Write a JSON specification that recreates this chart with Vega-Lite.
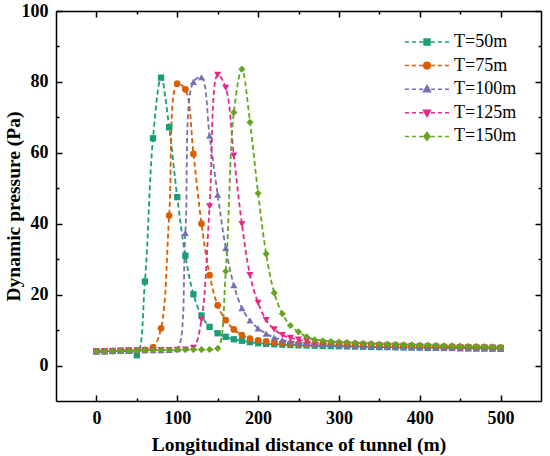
{
  "$schema": "https://vega.github.io/schema/vega-lite/v6.json",
  "width": 485,
  "height": 390,
  "autosize": {"type": "none"},
  "padding": {"left": 56, "top": 11, "right": 9, "bottom": 55},
  "background": "white",
  "config": {
    "view": {"stroke": null},
    "axis": {
      "grid": false,
      "domainColor": "black",
      "domainWidth": 1.5,
      "tickColor": "black",
      "tickWidth": 1.5,
      "labelFont": "Liberation Serif, Times New Roman, DejaVu Serif, serif",
      "labelFontSize": 18,
      "labelFontWeight": "bold",
      "labelColor": "black",
      "titleFont": "Liberation Serif, Times New Roman, DejaVu Serif, serif",
      "titleFontSize": 19.5,
      "titleFontWeight": "bold",
      "titleColor": "black"
    }
  },
  "data": {
    "values": [
      {"T": "T=50m", "x": 0, "p": 4.0}, {"T": "T=50m", "x": 10, "p": 4.05}, {"T": "T=50m", "x": 20, "p": 4.1}, {"T": "T=50m", "x": 30, "p": 4.15}, {"T": "T=50m", "x": 40, "p": 4.2},
      {"T": "T=50m", "x": 50, "p": 2.9}, {"T": "T=50m", "x": 60, "p": 23.7}, {"T": "T=50m", "x": 70, "p": 64.1}, {"T": "T=50m", "x": 80, "p": 81.2}, {"T": "T=50m", "x": 90, "p": 67.2},
      {"T": "T=50m", "x": 100, "p": 47.5}, {"T": "T=50m", "x": 110, "p": 31.0}, {"T": "T=50m", "x": 120, "p": 20.1}, {"T": "T=50m", "x": 130, "p": 14.1}, {"T": "T=50m", "x": 140, "p": 10.9},
      {"T": "T=50m", "x": 150, "p": 9.1}, {"T": "T=50m", "x": 160, "p": 8.1}, {"T": "T=50m", "x": 170, "p": 7.4}, {"T": "T=50m", "x": 180, "p": 7.0}, {"T": "T=50m", "x": 190, "p": 6.6},
      {"T": "T=50m", "x": 200, "p": 6.3}, {"T": "T=50m", "x": 210, "p": 6.1}, {"T": "T=50m", "x": 220, "p": 6.0}, {"T": "T=50m", "x": 230, "p": 5.9}, {"T": "T=50m", "x": 240, "p": 5.8},
      {"T": "T=50m", "x": 250, "p": 5.7}, {"T": "T=50m", "x": 260, "p": 5.65}, {"T": "T=50m", "x": 270, "p": 5.6}, {"T": "T=50m", "x": 280, "p": 5.55}, {"T": "T=50m", "x": 290, "p": 5.5},
      {"T": "T=50m", "x": 300, "p": 5.45}, {"T": "T=50m", "x": 310, "p": 5.4}, {"T": "T=50m", "x": 320, "p": 5.35}, {"T": "T=50m", "x": 330, "p": 5.3}, {"T": "T=50m", "x": 340, "p": 5.25},
      {"T": "T=50m", "x": 350, "p": 5.2}, {"T": "T=50m", "x": 360, "p": 5.2}, {"T": "T=50m", "x": 370, "p": 5.15}, {"T": "T=50m", "x": 380, "p": 5.1}, {"T": "T=50m", "x": 390, "p": 5.1},
      {"T": "T=50m", "x": 400, "p": 5.05}, {"T": "T=50m", "x": 410, "p": 5.0}, {"T": "T=50m", "x": 420, "p": 5.0}, {"T": "T=50m", "x": 430, "p": 4.95}, {"T": "T=50m", "x": 440, "p": 4.95},
      {"T": "T=50m", "x": 450, "p": 4.9}, {"T": "T=50m", "x": 460, "p": 4.9}, {"T": "T=50m", "x": 470, "p": 4.85}, {"T": "T=50m", "x": 480, "p": 4.85}, {"T": "T=50m", "x": 490, "p": 4.8},
      {"T": "T=50m", "x": 500, "p": 4.8},

      {"T": "T=75m", "x": 0, "p": 4.0}, {"T": "T=75m", "x": 10, "p": 4.05}, {"T": "T=75m", "x": 20, "p": 4.1}, {"T": "T=75m", "x": 30, "p": 4.15}, {"T": "T=75m", "x": 40, "p": 4.2},
      {"T": "T=75m", "x": 50, "p": 4.25}, {"T": "T=75m", "x": 60, "p": 4.4}, {"T": "T=75m", "x": 70, "p": 5.1}, {"T": "T=75m", "x": 80, "p": 10.5}, {"T": "T=75m", "x": 90, "p": 42.3},
      {"T": "T=75m", "x": 100, "p": 79.5}, {"T": "T=75m", "x": 110, "p": 77.9}, {"T": "T=75m", "x": 120, "p": 59.7}, {"T": "T=75m", "x": 130, "p": 40.0}, {"T": "T=75m", "x": 140, "p": 25.5},
      {"T": "T=75m", "x": 150, "p": 17.0}, {"T": "T=75m", "x": 160, "p": 12.8}, {"T": "T=75m", "x": 170, "p": 10.2}, {"T": "T=75m", "x": 180, "p": 8.6}, {"T": "T=75m", "x": 190, "p": 7.6},
      {"T": "T=75m", "x": 200, "p": 7.1}, {"T": "T=75m", "x": 210, "p": 6.8}, {"T": "T=75m", "x": 220, "p": 6.5}, {"T": "T=75m", "x": 230, "p": 6.35}, {"T": "T=75m", "x": 240, "p": 6.2},
      {"T": "T=75m", "x": 250, "p": 6.1}, {"T": "T=75m", "x": 260, "p": 6.0}, {"T": "T=75m", "x": 270, "p": 5.95}, {"T": "T=75m", "x": 280, "p": 5.9}, {"T": "T=75m", "x": 290, "p": 5.85},
      {"T": "T=75m", "x": 300, "p": 5.8}, {"T": "T=75m", "x": 310, "p": 5.75}, {"T": "T=75m", "x": 320, "p": 5.7}, {"T": "T=75m", "x": 330, "p": 5.65}, {"T": "T=75m", "x": 340, "p": 5.6},
      {"T": "T=75m", "x": 350, "p": 5.55}, {"T": "T=75m", "x": 360, "p": 5.5}, {"T": "T=75m", "x": 370, "p": 5.45}, {"T": "T=75m", "x": 380, "p": 5.4}, {"T": "T=75m", "x": 390, "p": 5.4},
      {"T": "T=75m", "x": 400, "p": 5.35}, {"T": "T=75m", "x": 410, "p": 5.3}, {"T": "T=75m", "x": 420, "p": 5.3}, {"T": "T=75m", "x": 430, "p": 5.25}, {"T": "T=75m", "x": 440, "p": 5.2},
      {"T": "T=75m", "x": 450, "p": 5.2}, {"T": "T=75m", "x": 460, "p": 5.15}, {"T": "T=75m", "x": 470, "p": 5.1}, {"T": "T=75m", "x": 480, "p": 5.1}, {"T": "T=75m", "x": 490, "p": 5.05},
      {"T": "T=75m", "x": 500, "p": 5.0},

      {"T": "T=100m", "x": 0, "p": 4.0}, {"T": "T=100m", "x": 10, "p": 4.05}, {"T": "T=100m", "x": 20, "p": 4.1}, {"T": "T=100m", "x": 30, "p": 4.15}, {"T": "T=100m", "x": 40, "p": 4.2},
      {"T": "T=100m", "x": 50, "p": 4.25}, {"T": "T=100m", "x": 60, "p": 4.3}, {"T": "T=100m", "x": 70, "p": 4.35}, {"T": "T=100m", "x": 80, "p": 4.35}, {"T": "T=100m", "x": 90, "p": 4.4},
      {"T": "T=100m", "x": 100, "p": 4.6}, {"T": "T=100m", "x": 110, "p": 37.4}, {"T": "T=100m", "x": 120, "p": 80.0}, {"T": "T=100m", "x": 130, "p": 81.3}, {"T": "T=100m", "x": 140, "p": 64.8},
      {"T": "T=100m", "x": 150, "p": 48.2}, {"T": "T=100m", "x": 160, "p": 33.2}, {"T": "T=100m", "x": 170, "p": 22.7}, {"T": "T=100m", "x": 180, "p": 16.2}, {"T": "T=100m", "x": 190, "p": 12.7},
      {"T": "T=100m", "x": 200, "p": 10.5}, {"T": "T=100m", "x": 210, "p": 9.0}, {"T": "T=100m", "x": 220, "p": 7.9}, {"T": "T=100m", "x": 230, "p": 7.2}, {"T": "T=100m", "x": 240, "p": 6.8},
      {"T": "T=100m", "x": 250, "p": 6.5}, {"T": "T=100m", "x": 260, "p": 6.3}, {"T": "T=100m", "x": 270, "p": 6.1}, {"T": "T=100m", "x": 280, "p": 6.0}, {"T": "T=100m", "x": 290, "p": 5.9},
      {"T": "T=100m", "x": 300, "p": 5.8}, {"T": "T=100m", "x": 310, "p": 5.7}, {"T": "T=100m", "x": 320, "p": 5.6}, {"T": "T=100m", "x": 330, "p": 5.55}, {"T": "T=100m", "x": 340, "p": 5.5},
      {"T": "T=100m", "x": 350, "p": 5.4}, {"T": "T=100m", "x": 360, "p": 5.35}, {"T": "T=100m", "x": 370, "p": 5.3}, {"T": "T=100m", "x": 380, "p": 5.25}, {"T": "T=100m", "x": 390, "p": 5.2},
      {"T": "T=100m", "x": 400, "p": 5.15}, {"T": "T=100m", "x": 410, "p": 5.1}, {"T": "T=100m", "x": 420, "p": 5.05}, {"T": "T=100m", "x": 430, "p": 5.0}, {"T": "T=100m", "x": 440, "p": 4.95},
      {"T": "T=100m", "x": 450, "p": 4.9}, {"T": "T=100m", "x": 460, "p": 4.85}, {"T": "T=100m", "x": 470, "p": 4.8}, {"T": "T=100m", "x": 480, "p": 4.8}, {"T": "T=100m", "x": 490, "p": 4.75},
      {"T": "T=100m", "x": 500, "p": 4.7},

      {"T": "T=125m", "x": 0, "p": 4.0}, {"T": "T=125m", "x": 10, "p": 4.05}, {"T": "T=125m", "x": 20, "p": 4.1}, {"T": "T=125m", "x": 30, "p": 4.15}, {"T": "T=125m", "x": 40, "p": 4.2},
      {"T": "T=125m", "x": 50, "p": 4.25}, {"T": "T=125m", "x": 60, "p": 4.3}, {"T": "T=125m", "x": 70, "p": 4.35}, {"T": "T=125m", "x": 80, "p": 4.35}, {"T": "T=125m", "x": 90, "p": 4.4},
      {"T": "T=125m", "x": 100, "p": 4.45}, {"T": "T=125m", "x": 110, "p": 4.5}, {"T": "T=125m", "x": 120, "p": 5.0}, {"T": "T=125m", "x": 130, "p": 12.9}, {"T": "T=125m", "x": 140, "p": 44.9},
      {"T": "T=125m", "x": 150, "p": 82.0}, {"T": "T=125m", "x": 160, "p": 78.3}, {"T": "T=125m", "x": 170, "p": 59.2}, {"T": "T=125m", "x": 180, "p": 39.9}, {"T": "T=125m", "x": 190, "p": 25.5},
      {"T": "T=125m", "x": 200, "p": 17.7}, {"T": "T=125m", "x": 210, "p": 12.8}, {"T": "T=125m", "x": 220, "p": 10.2}, {"T": "T=125m", "x": 230, "p": 8.6}, {"T": "T=125m", "x": 240, "p": 7.8},
      {"T": "T=125m", "x": 250, "p": 7.3}, {"T": "T=125m", "x": 260, "p": 6.9}, {"T": "T=125m", "x": 270, "p": 6.6}, {"T": "T=125m", "x": 280, "p": 6.4}, {"T": "T=125m", "x": 290, "p": 6.3},
      {"T": "T=125m", "x": 300, "p": 6.2}, {"T": "T=125m", "x": 310, "p": 6.1}, {"T": "T=125m", "x": 320, "p": 6.0}, {"T": "T=125m", "x": 330, "p": 5.9}, {"T": "T=125m", "x": 340, "p": 5.85},
      {"T": "T=125m", "x": 350, "p": 5.8}, {"T": "T=125m", "x": 360, "p": 5.7}, {"T": "T=125m", "x": 370, "p": 5.65}, {"T": "T=125m", "x": 380, "p": 5.6}, {"T": "T=125m", "x": 390, "p": 5.5},
      {"T": "T=125m", "x": 400, "p": 5.45}, {"T": "T=125m", "x": 410, "p": 5.4}, {"T": "T=125m", "x": 420, "p": 5.35}, {"T": "T=125m", "x": 430, "p": 5.3}, {"T": "T=125m", "x": 440, "p": 5.25},
      {"T": "T=125m", "x": 450, "p": 5.2}, {"T": "T=125m", "x": 460, "p": 5.15}, {"T": "T=125m", "x": 470, "p": 5.1}, {"T": "T=125m", "x": 480, "p": 5.1}, {"T": "T=125m", "x": 490, "p": 5.05},
      {"T": "T=125m", "x": 500, "p": 5.0},

      {"T": "T=150m", "x": 0, "p": 4.0}, {"T": "T=150m", "x": 10, "p": 4.05}, {"T": "T=150m", "x": 20, "p": 4.1}, {"T": "T=150m", "x": 30, "p": 4.15}, {"T": "T=150m", "x": 40, "p": 4.2},
      {"T": "T=150m", "x": 50, "p": 4.25}, {"T": "T=150m", "x": 60, "p": 4.3}, {"T": "T=150m", "x": 70, "p": 4.35}, {"T": "T=150m", "x": 80, "p": 4.35}, {"T": "T=150m", "x": 90, "p": 4.4},
      {"T": "T=150m", "x": 100, "p": 4.45}, {"T": "T=150m", "x": 110, "p": 4.45}, {"T": "T=150m", "x": 120, "p": 4.5}, {"T": "T=150m", "x": 130, "p": 4.5}, {"T": "T=150m", "x": 140, "p": 4.55},
      {"T": "T=150m", "x": 150, "p": 4.8}, {"T": "T=150m", "x": 160, "p": 26.6}, {"T": "T=150m", "x": 170, "p": 71.4}, {"T": "T=150m", "x": 180, "p": 83.6}, {"T": "T=150m", "x": 190, "p": 68.6},
      {"T": "T=150m", "x": 200, "p": 48.6}, {"T": "T=150m", "x": 210, "p": 31.5}, {"T": "T=150m", "x": 220, "p": 20.5}, {"T": "T=150m", "x": 230, "p": 14.6}, {"T": "T=150m", "x": 240, "p": 11.3},
      {"T": "T=150m", "x": 250, "p": 9.5}, {"T": "T=150m", "x": 260, "p": 8.1}, {"T": "T=150m", "x": 270, "p": 7.3}, {"T": "T=150m", "x": 280, "p": 7.0}, {"T": "T=150m", "x": 290, "p": 6.75},
      {"T": "T=150m", "x": 300, "p": 6.6}, {"T": "T=150m", "x": 310, "p": 6.5}, {"T": "T=150m", "x": 320, "p": 6.4}, {"T": "T=150m", "x": 330, "p": 6.3}, {"T": "T=150m", "x": 340, "p": 6.2},
      {"T": "T=150m", "x": 350, "p": 6.1}, {"T": "T=150m", "x": 360, "p": 6.05}, {"T": "T=150m", "x": 370, "p": 6.0}, {"T": "T=150m", "x": 380, "p": 5.9}, {"T": "T=150m", "x": 390, "p": 5.85},
      {"T": "T=150m", "x": 400, "p": 5.8}, {"T": "T=150m", "x": 410, "p": 5.75}, {"T": "T=150m", "x": 420, "p": 5.7}, {"T": "T=150m", "x": 430, "p": 5.6}, {"T": "T=150m", "x": 440, "p": 5.55},
      {"T": "T=150m", "x": 450, "p": 5.5}, {"T": "T=150m", "x": 460, "p": 5.45}, {"T": "T=150m", "x": 470, "p": 5.4}, {"T": "T=150m", "x": 480, "p": 5.35}, {"T": "T=150m", "x": 490, "p": 5.3},
      {"T": "T=150m", "x": 500, "p": 5.2}
    ]
  },
  "layer": [
    {
      "mark": {"type": "line", "strokeDash": [5, 3], "strokeWidth": 1.8, "interpolate": "catmull-rom"},
      "encoding": {
        "x": {
          "field": "x", "type": "quantitative",
          "scale": {"domain": [-50, 550], "nice": false, "zero": false},
          "axis": {
            "values": [0, 50, 100, 150, 200, 250, 300, 350, 400, 450, 500],
            "labelExpr": "datum.value % 100 === 0 ? datum.label : ''",
            "tickSize": {"condition": {"test": "datum.value % 100 === 0", "value": -6}, "value": -3},
            "labelPadding": 14,
            "title": "Longitudinal distance of tunnel (m)",
            "titleY": 49,
            "titleBaseline": "alphabetic"
          }
        },
        "y": {
          "field": "p", "type": "quantitative",
          "scale": {"domain": [-10, 100], "nice": false, "zero": false},
          "axis": {
            "values": [0, 10, 20, 30, 40, 50, 60, 70, 80, 90, 100],
            "labelExpr": "datum.value % 20 === 0 ? datum.label : ''",
            "tickSize": {"condition": {"test": "datum.value % 20 === 0", "value": -6}, "value": -3},
            "labelPadding": 14,
            "title": "Dynamic pressure (Pa)",
            "titleX": -37,
            "titleBaseline": "alphabetic"
          }
        },
        "color": {
          "field": "T", "type": "nominal",
          "scale": {
            "domain": ["T=50m", "T=75m", "T=100m", "T=125m", "T=150m"],
            "range": ["#1b9e77", "#d95f02", "#7570b3", "#e7298a", "#66a61e"]
          },
          "legend": {
            "title": null,
            "orient": "none",
            "legendX": 359,
            "legendY": 19,
            "padding": 0,
            "symbolSize": 484,
            "rowPadding": 2.6,
            "labelOffset": 15,
            "labelFont": "Liberation Serif, Times New Roman, DejaVu Serif, serif",
            "labelFontSize": 18,
            "labelColor": "black",
            "encode": {
              "symbols": {
                "update": {
                  "shape": {"signal": "datum.value === 'T=50m' ? 'M-2,0L-1.64,0M-1.36,0L-1,0M-0.72,0L-0.36,0M0.36,0L0.72,0M1,0L1.36,0M1.64,0L2,0M-0.27,-0.27L0.27,-0.27L0.27,0.27L-0.27,0.27Z' : datum.value === 'T=75m' ? 'M-2,0L-1.64,0M-1.36,0L-1,0M-0.72,0L-0.36,0M0.36,0L0.72,0M1,0L1.36,0M1.64,0L2,0M-0.3,0A0.3,0.3,0,1,0,0.3,0A0.3,0.3,0,1,0,-0.3,0Z' : datum.value === 'T=100m' ? 'M-2,0L-1.64,0M-1.36,0L-1,0M-0.72,0L-0.36,0M0.36,0L0.72,0M1,0L1.36,0M1.64,0L2,0M0,-0.34L0.32,0.24L-0.32,0.24Z' : datum.value === 'T=125m' ? 'M-2,0L-1.64,0M-1.36,0L-1,0M-0.72,0L-0.36,0M0.36,0L0.72,0M1,0L1.36,0M1.64,0L2,0M0,0.34L0.32,-0.24L-0.32,-0.24Z' : 'M-2,0L-1.64,0M-1.36,0L-1,0M-0.72,0L-0.36,0M0.36,0L0.72,0M1,0L1.36,0M1.64,0L2,0M0,-0.36L0.28,0L0,0.36L-0.28,0Z'"},
                  "fill": {"signal": "scale('color', datum.value)"},
                  "stroke": {"signal": "scale('color', datum.value)"},
                  "strokeWidth": {"value": 1.5},
                  "opacity": {"value": 1}
                }
              }
            }
          }
        }
      }
    },
    {
      "transform": [{"filter": "datum.T === 'T=50m'"}],
      "mark": {"type": "point", "shape": "square", "filled": true, "opacity": 1, "size": 40},
      "encoding": {
        "x": {
          "field": "x", "type": "quantitative",
          "axis": {
            "orient": "top",
            "values": [0, 50, 100, 150, 200, 250, 300, 350, 400, 450, 500],
            "labels": false,
            "title": null,
            "tickSize": {"condition": {"test": "datum.value % 100 === 0", "value": -6}, "value": -3}
          }
        },
        "y": {
          "field": "p", "type": "quantitative",
          "axis": {
            "orient": "right",
            "values": [0, 10, 20, 30, 40, 50, 60, 70, 80, 90, 100],
            "labels": false,
            "title": null,
            "tickSize": {"condition": {"test": "datum.value % 20 === 0", "value": -6}, "value": -3}
          }
        },
        "color": {"field": "T", "type": "nominal"}
      }
    },
    {
      "transform": [{"filter": "datum.T === 'T=75m'"}],
      "mark": {"type": "point", "shape": "circle", "filled": true, "opacity": 1, "size": 45},
      "encoding": {
        "x": {"field": "x", "type": "quantitative", "axis": null},
        "y": {"field": "p", "type": "quantitative", "axis": null},
        "color": {"field": "T", "type": "nominal"}
      }
    },
    {
      "transform": [{"filter": "datum.T === 'T=100m'"}],
      "mark": {"type": "point", "shape": "triangle-up", "filled": true, "opacity": 1, "size": 50},
      "encoding": {
        "x": {"field": "x", "type": "quantitative", "axis": null},
        "y": {"field": "p", "type": "quantitative", "axis": null},
        "color": {"field": "T", "type": "nominal"}
      }
    },
    {
      "transform": [{"filter": "datum.T === 'T=125m'"}],
      "mark": {"type": "point", "shape": "triangle-down", "filled": true, "opacity": 1, "size": 50},
      "encoding": {
        "x": {"field": "x", "type": "quantitative", "axis": null},
        "y": {"field": "p", "type": "quantitative", "axis": null},
        "color": {"field": "T", "type": "nominal"}
      }
    },
    {
      "transform": [{"filter": "datum.T === 'T=150m'"}],
      "mark": {"type": "point", "shape": "diamond", "filled": true, "opacity": 1, "size": 50},
      "encoding": {
        "x": {"field": "x", "type": "quantitative", "axis": null},
        "y": {"field": "p", "type": "quantitative", "axis": null},
        "color": {"field": "T", "type": "nominal"}
      }
    }
  ],
  "resolve": {"axis": {"x": "independent", "y": "independent"}}
}
